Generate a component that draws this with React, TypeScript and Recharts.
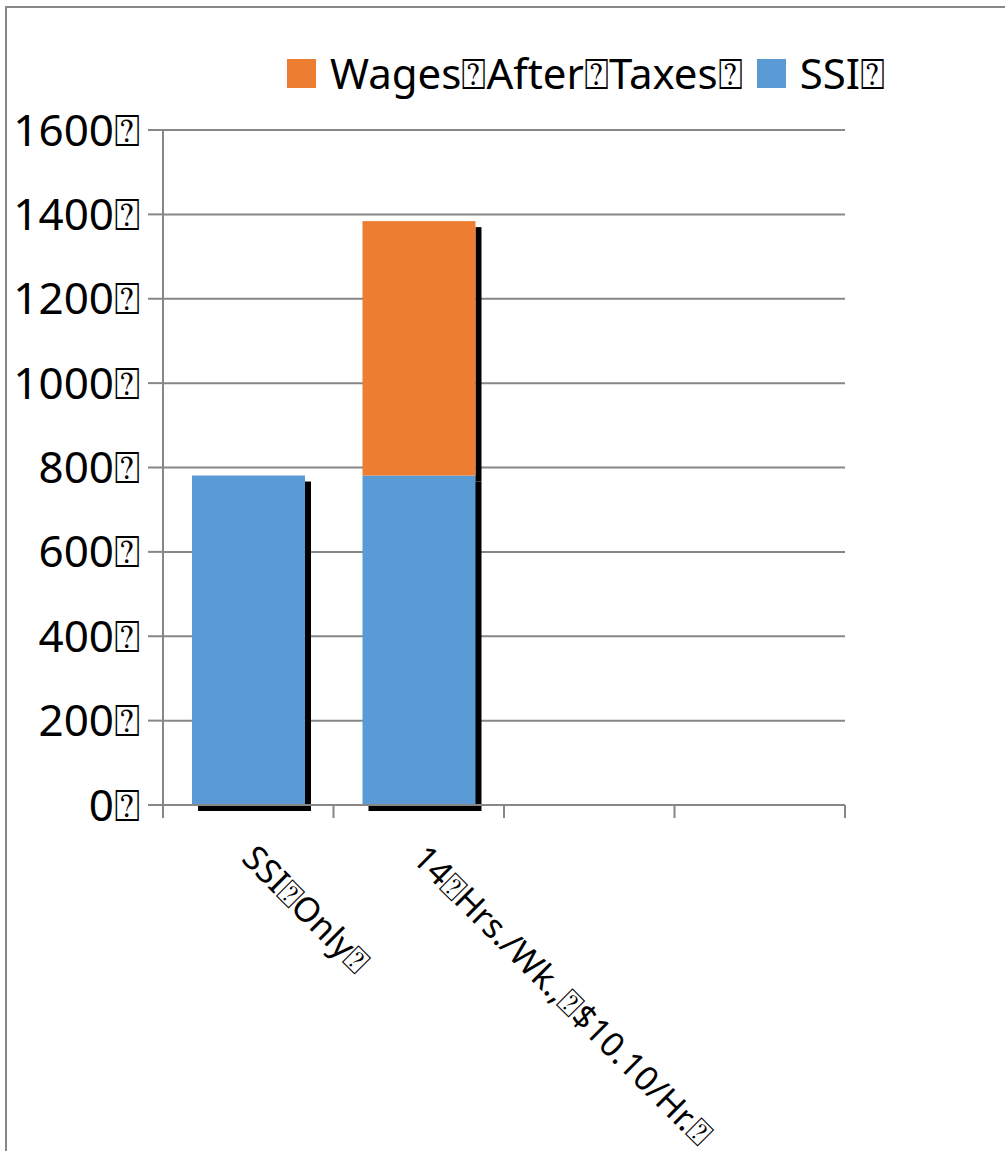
import { BarChart, Bar, XAxis, YAxis, CartesianGrid, Legend } from 'recharts';

// the source renders a missing-glyph box where spaces/terminators were
const BOX = '\u2370';

const categories = [`SSI${BOX}Only${BOX}`, `14${BOX}Hrs./Wk.,${BOX}$10.10/Hr.${BOX}`, '', ''];
const ssiValues = [781, 781, null, null];
const wageValues = [0, 603, null, null];
const yTicks = [0, 200, 400, 600, 800, 1000, 1200, 1400, 1600];

const data = categories.map((label, i) => ({
  label,
  ssi: ssiValues[i],
  wages: wageValues[i],
}));

const W = 1005;
const H = 1151;
const margin = { top: 130, right: 160, bottom: 0, left: 13 };
const xAxisHeight = 346;
const yAxisWidth = 150;
const band = (W - margin.left - yAxisWidth - margin.right) / categories.length;

const GRAY = '#878787';
const FONT = '"Noto Sans", sans-serif';
const SHADOW = 6;

const BottomShape = (props: any) => {
  const { x, y, width, height, fill } = props;
  if (!height) return null;
  return (
    <g>
      <rect x={x + SHADOW} y={y + SHADOW} width={width} height={height} fill="#000" />
      <rect x={x} y={y} width={width} height={height} fill={fill} />
    </g>
  );
};

const TopShape = (props: any) => {
  const { x, y, width, height, fill } = props;
  if (!height) return null;
  return (
    <g>
      <rect x={x + width} y={y + SHADOW} width={SHADOW} height={height} fill="#000" />
      <rect x={x} y={y} width={width} height={height} fill={fill} />
    </g>
  );
};

const XTick = (props: any) => {
  const { x, y, payload, index } = props;
  const tx = x - 8;
  const ty = y + 55;
  return (
    <g>
      <line x1={x - band / 2} y1={y} x2={x - band / 2} y2={y + 13} stroke={GRAY} strokeWidth={2} />
      {index === categories.length - 1 && (
        <line x1={x + band / 2} y1={y} x2={x + band / 2} y2={y + 13} stroke={GRAY} strokeWidth={2} />
      )}
      {payload.value && (
        <text
          x={tx}
          y={ty}
          transform={`rotate(45, ${tx}, ${ty})`}
          textAnchor="start"
          fontSize={34}
          fontFamily={FONT}
          fill="#000"
        >
          {payload.value}
        </text>
      )}
    </g>
  );
};

const LegendContent = (props: any) => {
  const items = [...(props.payload || [])].reverse();
  return (
    <div style={{ display: 'flex', alignItems: 'center', fontFamily: FONT, fontSize: 42 }}>
      {items.map((it: any) => (
        <div key={it.value} style={{ display: 'flex', alignItems: 'center', marginRight: 14 }}>
          <span style={{ width: 29, height: 29, background: it.color, display: 'inline-block', marginRight: 14 }} />
          <span style={{ color: '#000', lineHeight: 1 }}>{it.value}</span>
        </div>
      ))}
    </div>
  );
};

export default function App() {
  return (
    <div style={{ position: 'absolute', left: 0, top: 0, width: W, height: H, overflow: 'hidden', background: '#fff' }}>
      <div style={{ position: 'absolute', left: 0, top: 0 }}>
        <BarChart width={W} height={H} data={data} margin={margin} barCategoryGap="17%">
          <CartesianGrid vertical={false} stroke={GRAY} strokeWidth={2} />
          <XAxis
            dataKey="label"
            allowDuplicatedCategory
            interval={0}
            axisLine={{ stroke: GRAY, strokeWidth: 2 }}
            tickLine={false}
            tickSize={0}
            tickMargin={0}
            tick={<XTick />}
            height={xAxisHeight}
          />
          <YAxis
            width={yAxisWidth}
            domain={[0, 1600]}
            ticks={yTicks}
            interval={0}
            axisLine={{ stroke: GRAY, strokeWidth: 2 }}
            tickLine={{ stroke: GRAY, strokeWidth: 2 }}
            tickSize={15}
            tickMargin={8}
            tickFormatter={(v: number) => `${v}${BOX}`}
            tick={{ fill: '#000', fontSize: 44, fontFamily: FONT }}
          />
          <Legend
            layout="horizontal"
            verticalAlign="middle"
            wrapperStyle={{ top: 52, left: 287, width: 'auto' }}
            content={<LegendContent />}
          />
          <Bar dataKey="ssi" name={`SSI${BOX}`} stackId="a" fill="#5B9BD5" shape={<BottomShape />} isAnimationActive={false} />
          <Bar dataKey="wages" name={`Wages${BOX}After${BOX}Taxes${BOX}`} stackId="a" fill="#ED7D31" shape={<TopShape />} isAnimationActive={false} />
        </BarChart>
      </div>
      <div
        style={{
          position: 'absolute',
          left: 5,
          top: 6,
          width: W,
          height: H,
          borderLeft: `2px solid ${GRAY}`,
          borderTop: `2px solid ${GRAY}`,
          pointerEvents: 'none',
        }}
      />
    </div>
  );
}
